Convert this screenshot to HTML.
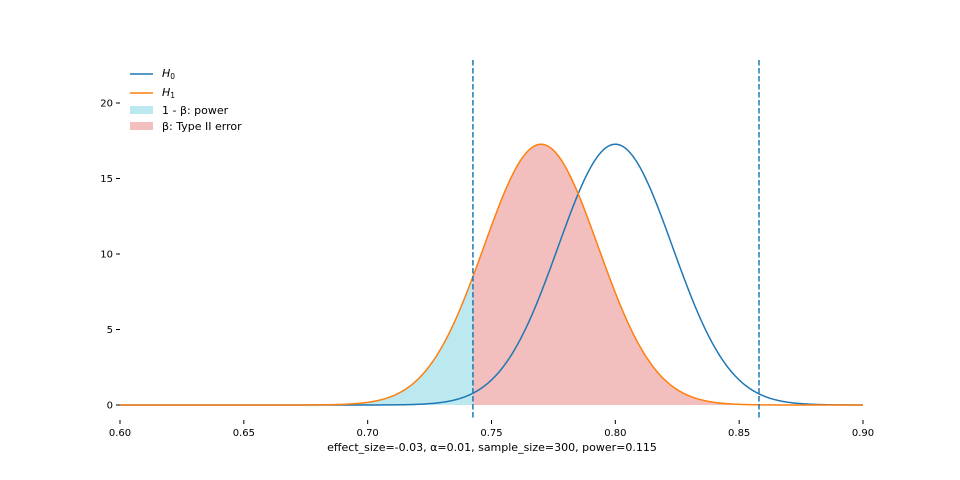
<!DOCTYPE html>
<html><head><meta charset="utf-8"><style>
body{margin:0;background:#fff;}
svg{display:block;font-family:"DejaVu Sans","Liberation Sans",sans-serif;}
</style></head><body>
<svg id="chart" width="960" height="480">
<g id="fills"></g>
<g id="curves"></g>
<g id="axes"></g>
<g font-size="11">
 <line x1="130" y1="74" x2="153" y2="74" stroke="#1f77b4" stroke-width="1.5"/>
 <text x="162" y="77"><tspan font-style="italic">H</tspan><tspan font-size="7.5" dy="2">0</tspan></text>
 <line x1="130" y1="93" x2="153" y2="93" stroke="#ff7f0e" stroke-width="1.5"/>
 <text x="162" y="96"><tspan font-style="italic">H</tspan><tspan font-size="7.5" dy="2">1</tspan></text>
 <rect x="130" y="106" width="23" height="8" fill="#bce9ef"/>
 <text x="162" y="114">1 - β: power</text>
 <rect x="130" y="122" width="23" height="8" fill="#f2bebe"/>
 <text x="162" y="130">β: Type II error</text>
</g>
<text x="492" y="451" font-size="11" text-anchor="middle">effect_size=-0.03, α=0.01, sample_size=300, power=0.115</text>
</svg>
<script>
const means = [0.8, 0.77];
const sds = [0.0231, 0.0231];
const criticals = [0.7425, 0.858];
const xTicks = [0.60, 0.65, 0.70, 0.75, 0.80, 0.85, 0.90];
const yTicks = [0, 5, 10, 15, 20];
const xDomain = [0.6, 0.9];

const NS = "http://www.w3.org/2000/svg";
const X = v => 120 + (v - 0.6) * (743 / 0.3);
const Y = v => 405 - v * 15.1;
function pdf(x, m, s){return Math.exp(-0.5*((x-m)/s)**2)/(s*Math.sqrt(2*Math.PI));}
function mk(tag, attrs, parent){const e=document.createElementNS(NS,tag);for(const k in attrs)e.setAttribute(k,attrs[k]);parent.appendChild(e);return e;}

const fills=document.getElementById('fills'), curves=document.getElementById('curves'), axes=document.getElementById('axes');
function area(a,b,m,s){
  let d=`M${X(a)},${Y(0)}`;
  const n=200;
  for(let i=0;i<=n;i++){const x=a+(b-a)*i/n;d+=` L${X(x).toFixed(2)},${Y(pdf(x,m,s)).toFixed(2)}`;}
  d+=` L${X(b)},${Y(0)} Z`;return d;
}
const pw=mk('path',{d:area(xDomain[0],criticals[0],means[1],sds[1]),fill:'#bce9ef'},fills);


const bt=mk('path',{d:area(criticals[0],criticals[1],means[1],sds[1]),fill:'#f2bebe'},fills);



const colors=['#1f77b4','#ff7f0e'];
means.forEach((m,j)=>{
  let d='';const n=600;
  for(let i=0;i<=n;i++){const x=xDomain[0]+(xDomain[1]-xDomain[0])*i/n;d+=(i?' L':'M')+X(x).toFixed(2)+','+Y(pdf(x,m,sds[j])).toFixed(2);}
  const p=mk('path',{d:d,fill:'none',stroke:colors[j],'stroke-width':1.5},curves);
  
  
});
criticals.forEach((c,i)=>{
  const l=mk('line',{x1:X(c),x2:X(c),y1:60,y2:420,stroke:'#1f77b4','stroke-width':1.5,'stroke-dasharray':'5.5,2.5'},curves);
  
  
});
xTicks.forEach(t=>{
  const l=mk('line',{x1:X(t),x2:X(t),y1:420,y2:424,stroke:'#000'},axes);
  
  
  const tx=mk('text',{x:X(t),y:436,'font-size':10,'text-anchor':'middle'},axes);
  tx.textContent=t.toFixed(2);
  
  
});
yTicks.forEach(t=>{
  const l=mk('line',{x1:116,x2:120,y1:Y(t),y2:Y(t),stroke:'#000'},axes);
  
  
  const tx=mk('text',{x:113,y:Y(t)+3.5,'font-size':10,'text-anchor':'end'},axes);
  tx.textContent=t;
  
  
});
</script>
</body></html>
